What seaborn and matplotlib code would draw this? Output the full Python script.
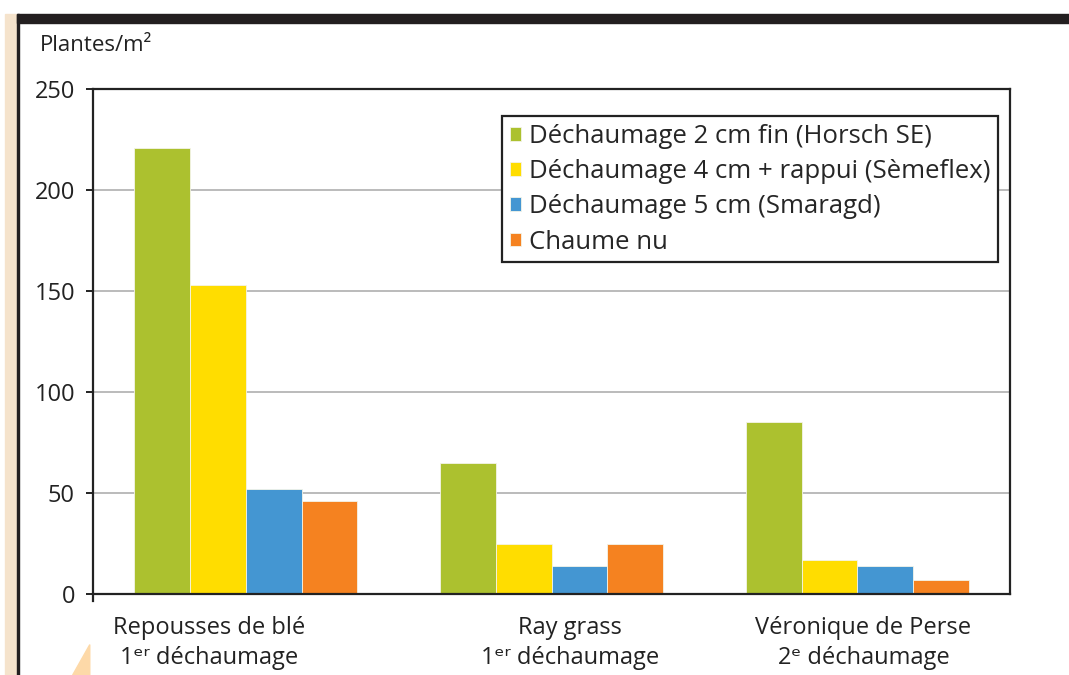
import numpy as np
import pandas as pd
import matplotlib
matplotlib.use("Agg")
import matplotlib.pyplot as plt
import seaborn as sns
from matplotlib.patches import Rectangle, Polygon

categories = ["Repousses de blé", "Ray grass", "Véronique de Perse"]
cat_labels = ["Repousses de blé\n1ᵉʳ déchaumage",
              "Ray grass\n1ᵉʳ déchaumage",
              "Véronique de Perse\n2ᵉ déchaumage"]
series = ["Déchaumage 2 cm fin (Horsch SE)",
          "Déchaumage 4 cm + rappui (Sèmeflex)",
          "Déchaumage 5 cm (Smaragd)",
          "Chaume nu"]
values = [
    [221, 65, 85],   # 2 cm fin
    [153, 25, 17],   # 4 cm + rappui
    [52, 14, 14],    # 5 cm
    [46, 25, 7],     # chaume nu
]
colors = ["#acc12f", "#ffdd00", "#4496d2", "#f58220"]
yticks = [0, 50, 100, 150, 200, 250]

rows = []
for s, vals in zip(series, values):
    for c, v in zip(categories, vals):
        rows.append({"cat": c, "serie": s, "val": v})
df = pd.DataFrame(rows)

sns.set_style("white")
plt.rcParams['font.family'] = ['Open Sans', 'DejaVu Sans']

fig = plt.figure(figsize=(10.69, 6.75), dpi=100)
ax = fig.add_axes([0.087, 0.12, 0.858, 0.748])

sns.barplot(data=df, x="cat", y="val", hue="serie", order=categories,
            hue_order=series, palette=colors, saturation=1, width=0.73, gap=0,
            edgecolor="#f4f4e8", linewidth=0.6, ax=ax, errorbar=None)

ax.set_ylim(0, 250)
ax.set_xlim(-0.5, 2.5)
ax.set_yticks(yticks)
ax.set_yticklabels([str(t) for t in yticks], fontsize=17, color="#222222")
ax.yaxis.grid(True, color="#bbbbbb", linewidth=1.4)
ax.set_axisbelow(True)
ax.tick_params(axis="y", length=5, width=1.4, color="#222222", pad=8, left=True)
ax.tick_params(axis="x", length=0)
ax.set_xticks([])
ax.set_xlabel("")
ax.set_ylabel("")
for sp in ax.spines.values():
    sp.set_visible(True)
    sp.set_color("#222222")
    sp.set_linewidth(1.6)
ax.spines["left"].set_bounds(-3.5, 250)

# category labels below the axis
label_x = [-0.12, 1.06, 2.02]
for x, lab in zip(label_x, cat_labels):
    ax.text(x, -11, lab, ha="center", va="top", fontsize=17, color="#222222",
            linespacing=1.3, family=['Open Sans', 'DejaVu Sans'])

fig.text(0.037, 0.933, "Plantes/m²", fontsize=16, color="#222222", va="center")

leg = ax.legend(loc="upper right", bbox_to_anchor=(0.987, 0.9465), fontsize=18.5,
                frameon=True, fancybox=False, framealpha=1, handlelength=0.45,
                handleheight=0.45, handletextpad=0.3, labelspacing=0.4,
                borderpad=0.3, borderaxespad=0, title=None)
leg.get_frame().set_edgecolor("#222222")
leg.get_frame().set_linewidth(1.6)

# page decoration
fig.patches.append(Rectangle((0.016, 0.966), 0.984, 0.0135, transform=fig.transFigure,
                             color="#231f20", zorder=5))
fig.patches.append(Rectangle((0.005, 0.0), 0.011, 0.98, transform=fig.transFigure,
                             color="#f5e3cc", zorder=4))
fig.patches.append(Rectangle((0.016, 0.0), 0.0015, 0.98, transform=fig.transFigure,
                             color="#231f20", zorder=5))
fig.patches.append(Polygon([(0.068, 0.0), (0.084, 0.045), (0.084, 0.0)],
                           transform=fig.transFigure, color="#fdd9a8", zorder=4))

fig.savefig("out.png", dpi=100)
